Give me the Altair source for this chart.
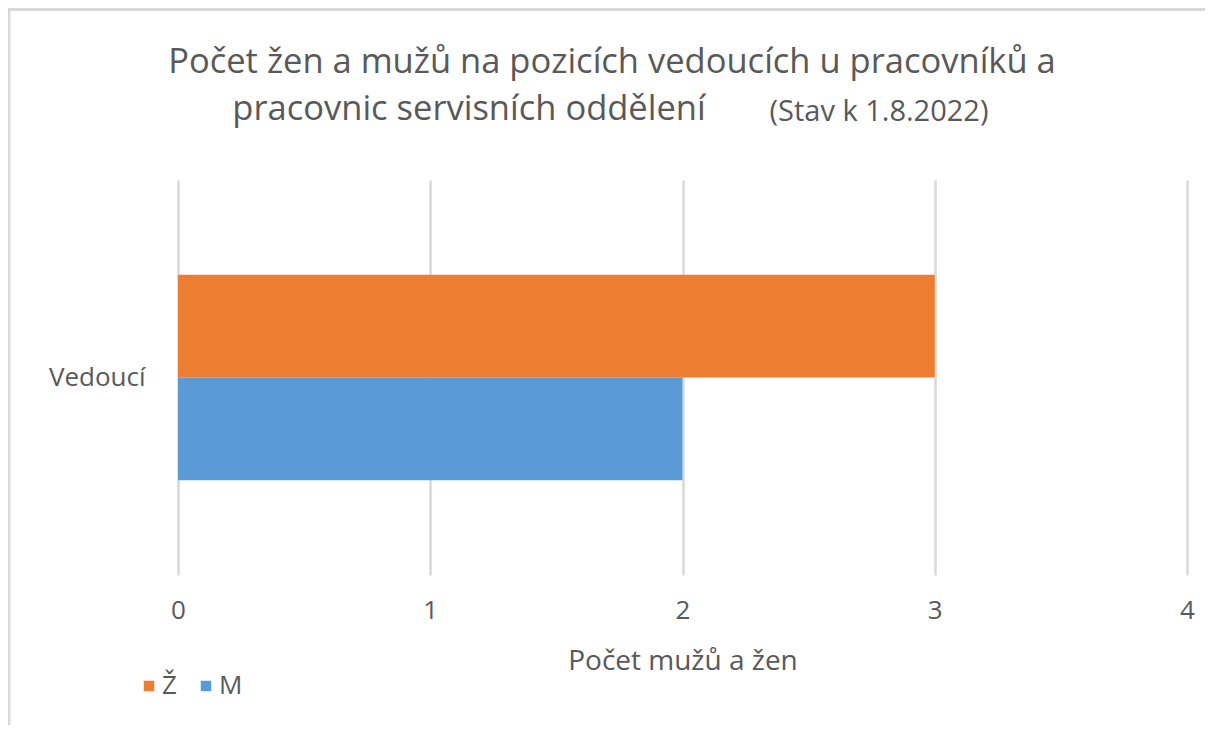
import altair as alt
import pandas as pd

# ---- data ----
categories = ["Vedoucí", "Vedoucí"]
series = ["Ž", "M"]
values = [3, 2]
colors = ["#ED7D31", "#5B9BD5"]
x_ticks = [0, 1, 2, 3, 4]
title_line1 = ["Počet žen a mužů na pozicích vedoucích u pracovníků a"]
title_line2 = ["pracovnic servisních oddělení"]
title_note = ["(Stav k 1.8.2022)"]
x_title = "Počet mužů a žen"

df = pd.DataFrame({"kategorie": categories, "pohlavi": series, "pocet": values})

W, H = 1009, 395
FONT = "Open Sans"
TEXT = "#595959"
GRID = "#d9d9d9"

bars = alt.Chart(df).mark_bar().encode(
    y=alt.Y(
        "kategorie:N",
        title=None,
        scale=alt.Scale(paddingOuter=0.46, paddingInner=0),
        axis=alt.Axis(labelFontSize=26, labelColor=TEXT, labelFont=FONT,
                      ticks=False, domain=False, labelPadding=33, grid=False),
    ),
    yOffset=alt.YOffset("pohlavi:N", sort=series,
                        scale=alt.Scale(paddingInner=0, paddingOuter=0)),
    x=alt.X(
        "pocet:Q",
        scale=alt.Scale(domain=[0, 4], nice=False),
        axis=alt.Axis(values=x_ticks, title=x_title, format="d",
                      labelFontSize=26, labelColor=TEXT, labelFont=FONT,
                      labelFlush=False, labelOverlap=False,
                      titleFontSize=28, titleColor=TEXT, titleFont=FONT,
                      titleFontWeight="normal",
                      ticks=False, domain=False, labelPadding=22, titlePadding=24,
                      grid=True, gridColor=GRID, gridWidth=2.5),
    ),
    color=alt.Color(
        "pohlavi:N",
        sort=series,
        scale=alt.Scale(domain=series, range=colors),
        legend=alt.Legend(title=None, orient="none", legendX=-42, legendY=493,
                          direction="horizontal", symbolType="square",
                          symbolSize=110, symbolStrokeWidth=0,
                          labelFontSize=26, labelColor=TEXT, labelFont=FONT,
                          labelOffset=0, columnPadding=16),
    ),
)

t1 = alt.Chart(pd.DataFrame({"t": title_line1})).mark_text(
    font=FONT, fontSize=34.5, color=TEXT, align="center", baseline="middle"
).encode(text="t:N", x=alt.value(434), y=alt.value(-117))

t2 = alt.Chart(pd.DataFrame({"t": title_line2})).mark_text(
    font=FONT, fontSize=34.5, color=TEXT, align="center", baseline="middle"
).encode(text="t:N", x=alt.value(291), y=alt.value(-70))

t3 = alt.Chart(pd.DataFrame({"t": title_note})).mark_text(
    font=FONT, fontSize=29, color=TEXT, align="center", baseline="middle"
).encode(text="t:N", x=alt.value(701), y=alt.value(-68))

frame_top = alt.Chart(pd.DataFrame({"t": ["frame"]})).mark_rule(
    color=GRID, strokeWidth=3, clip=False
).encode(x=alt.value(-170), x2=alt.value(1027), y=alt.value(-170.5))

frame_left = alt.Chart(pd.DataFrame({"t": ["frame"]})).mark_rule(
    color=GRID, strokeWidth=3, clip=False
).encode(x=alt.value(-169), y=alt.value(-170), y2=alt.value(550))

chart = alt.layer(bars, t1, t2, t3, frame_top, frame_left).properties(
    width=W, height=H,
    autosize=alt.AutoSizeParams(type="none"),
    padding={"left": 170, "top": 172, "right": 18, "bottom": 150},
).configure_view(stroke=None)

chart.save("out.html", embed_options={"renderer": "svg", "actions": False})
